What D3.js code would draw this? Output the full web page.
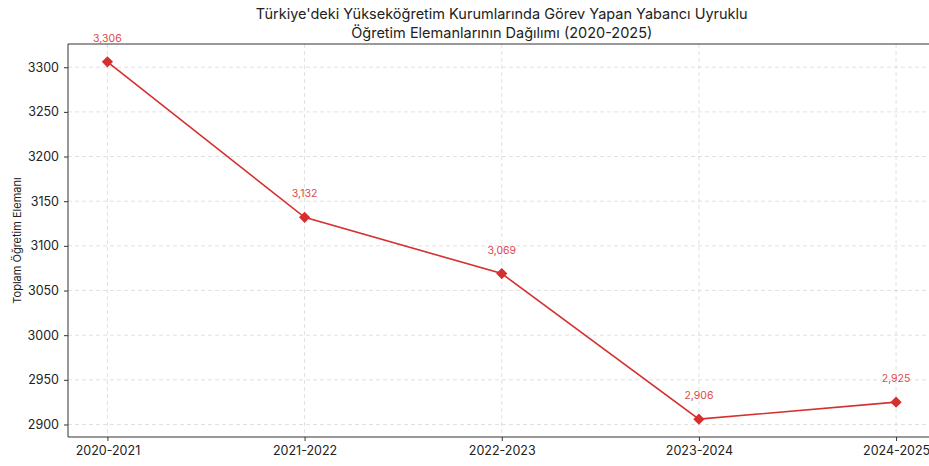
<!DOCTYPE html>
<html>
<head>
<meta charset="utf-8">
<script src="https://cdn.jsdelivr.net/npm/d3@7"></script>
<style>
  body { margin: 0; background: #fff; }
  svg { display: block; font-family: Inter, "Open Sans", sans-serif; }
</style>
</head>
<body>
<div id="chart"></div>
<script>
// Yabancı uyruklu öğretim elemanı sayıları
const years = ['2020-2021', '2021-2022', '2022-2023', '2023-2024', '2024-2025'];
const totals = [3306, 3132, 3069, 2906, 2925];
const yTicks = [2900, 2950, 3000, 3050, 3100, 3150, 3200, 3250, 3300];

const titleLines = [
  "Türkiye'deki Yükseköğretim Kurumlarında Görev Yapan Yabancı Uyruklu",
  'Öğretim Elemanlarının Dağılımı (2020-2025)'
];

const W = 929, H = 466;
const margin = { left: 68, top: 44, right: 935.5, bottom: 437 };
const red = '#d62f2f';

const svg = d3.select('#chart').append('svg')
  .attr('width', W)
  .attr('height', H);

const x = d3.scalePoint()
  .domain(years)
  .range([margin.left, margin.right])
  .padding(0.2);

const y = d3.scaleLinear()
  .domain([2886, 3326])
  .range([margin.bottom, margin.top]);

// grid
const grid = svg.append('g')
  .attr('stroke', '#d9d9d9')
  .attr('stroke-width', 0.8)
  .attr('stroke-dasharray', '4,3');

grid.selectAll('.gx')
  .data(years)
  .enter()
  .append('line')
  .attr('x1', d => x(d)).attr('x2', d => x(d))
  .attr('y1', margin.top).attr('y2', margin.bottom);

grid.selectAll('.gy')
  .data(yTicks)
  .enter()
  .append('line')
  .attr('x1', margin.left).attr('x2', margin.right)
  .attr('y1', d => y(d)).attr('y2', d => y(d));

// axes
const xAxis = svg.append('g')
  .attr('transform', `translate(0,${margin.bottom})`)
  .call(d3.axisBottom(x).tickSizeOuter(0).tickSize(4).tickPadding(5));

const yAxis = svg.append('g')
  .attr('transform', `translate(${margin.left},0)`)
  .call(d3.axisLeft(y).tickValues(yTicks).tickFormat(d3.format('d'))
    .tickSizeOuter(0).tickSize(4).tickPadding(5));

[xAxis, yAxis].forEach(a => {
  a.select('.domain').remove();
  a.selectAll('line').attr('stroke', '#333');
  a.selectAll('text')
    .style('font-size', '12.5px')
    .style('font-family', 'Inter, "Open Sans", sans-serif')
    .attr('fill', '#222');
});

// spines
svg.append('line')
  .attr('x1', margin.left).attr('x2', margin.left)
  .attr('y1', margin.top).attr('y2', margin.bottom)
  .attr('stroke', '#333').attr('stroke-width', 1);
svg.append('line')
  .attr('x1', margin.left).attr('x2', margin.right)
  .attr('y1', margin.bottom).attr('y2', margin.bottom)
  .attr('stroke', '#333').attr('stroke-width', 1);
svg.append('line')
  .attr('x1', margin.left).attr('x2', margin.right)
  .attr('y1', margin.top).attr('y2', margin.top)
  .attr('stroke', '#333').attr('stroke-width', 1);

// line + markers
const pts = years.map((yr, i) => ({ year: yr, value: totals[i] }));

svg.append('path')
  .datum(pts)
  .attr('fill', 'none')
  .attr('stroke', red)
  .attr('stroke-width', 1.6)
  .attr('d', d3.line().x(d => x(d.year)).y(d => y(d.value)));

svg.selectAll('.marker')
  .data(pts)
  .enter()
  .append('path')
  .attr('class', 'marker')
  .attr('transform', d => `translate(${x(d.year)},${y(d.value)})`)
  .attr('d', d3.symbol().type(d3.symbolDiamond2).size(80))
  .attr('fill', red);

svg.selectAll('.label')
  .data(pts)
  .enter()
  .append('text')
  .attr('class', 'label')
  .attr('x', d => x(d.year))
  .attr('y', d => y(d.value) - 20)
  .attr('text-anchor', 'middle')
  .style('font-size', '10.5px')
  .attr('fill', '#e0474a')
  .text(d => d3.format(',')(d.value));

// title
svg.append('text')
  .attr('text-anchor', 'middle')
  .style('font-size', '14.5px')
  .attr('fill', '#222')
  .selectAll('tspan')
  .data(titleLines)
  .enter()
  .append('tspan')
  .attr('x', (margin.left + margin.right) / 2)
  .attr('y', (d, i) => 19 + i * 19)
  .text(d => d);

// y label
svg.append('text')
  .attr('transform', 'rotate(-90)')
  .attr('x', -(margin.top + margin.bottom) / 2)
  .attr('y', 21)
  .attr('text-anchor', 'middle')
  .style('font-size', '11px')
  .attr('fill', '#222')
  .text('Toplam Öğretim Elemanı');
</script>
</body>
</html>
